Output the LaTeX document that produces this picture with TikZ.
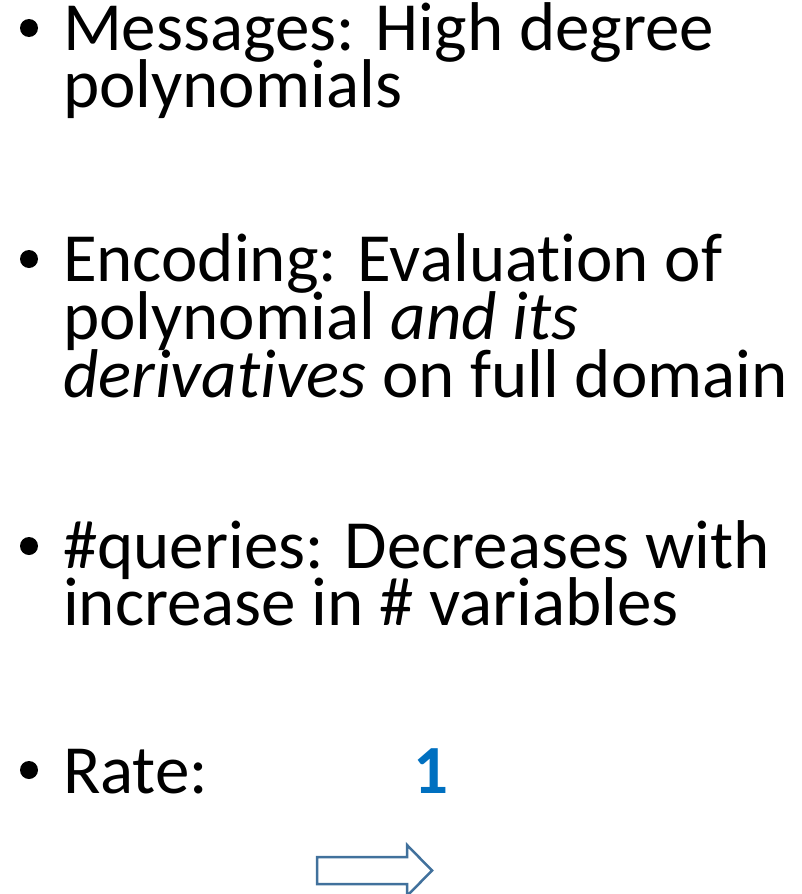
\documentclass[tikz,border=0pt]{standalone}
\usepackage{fontspec}
\setmainfont[Ligatures={NoCommon}]{Carlito}
\definecolor{rateblue}{RGB}{0,112,192}
\definecolor{arrowedge}{RGB}{65,113,156}
\tikzset{
  txt/.style={anchor=base west, inner sep=0pt, outer sep=0pt,
    text height=44pt, text depth=12pt, font=\fontsize{69}{58}\selectfont},
  dot/.style={circle, fill=black, inner sep=0pt, minimum size=18pt},
  blockarrow/.style={draw=arrowedge, line width=2.5pt, fill=white, line join=miter}
}
\begin{document}
\begin{tikzpicture}[x=1pt, y=-1pt]
  \useasboundingbox (0,0) rectangle (802,894);

  % first bullet
  \node[dot] (b1) at (29,28) {};
  \node[txt] (m1) at (63,50) {Messages: High degree};
  \node[txt] (m2) at (63,107) {polynomials};

  % second bullet
  \node[dot] (b2) at (29,259) {};
  \node[txt] (e1) at (63,281) {Encoding: Evaluation of};
  \node[txt] (e2) at (63,339) {polynomial \textit{and its}};
  \node[txt] (e3) at (63,397) {\textit{derivatives} on full domain};

  % third bullet
  \node[dot] (b3) at (29,546) {};
  \node[txt] (q1) at (63,568) {\#queries: Decreases with};
  \node[txt] (q2) at (63,625) {increase in \# variables};

  % fourth bullet
  \node[dot] (b4) at (29,770) {};
  \node[txt] (r1) at (63,793) {Rate:};
  \node[txt, text=rateblue] (one) at (413,793) {\bfseries 1};

  % outlined block arrow
  \draw[blockarrow] (317,857) -- (407,857) -- (407,845) -- (432,870.5)
    -- (407,896) -- (407,884) -- (317,884) -- cycle;
\end{tikzpicture}
\end{document}
